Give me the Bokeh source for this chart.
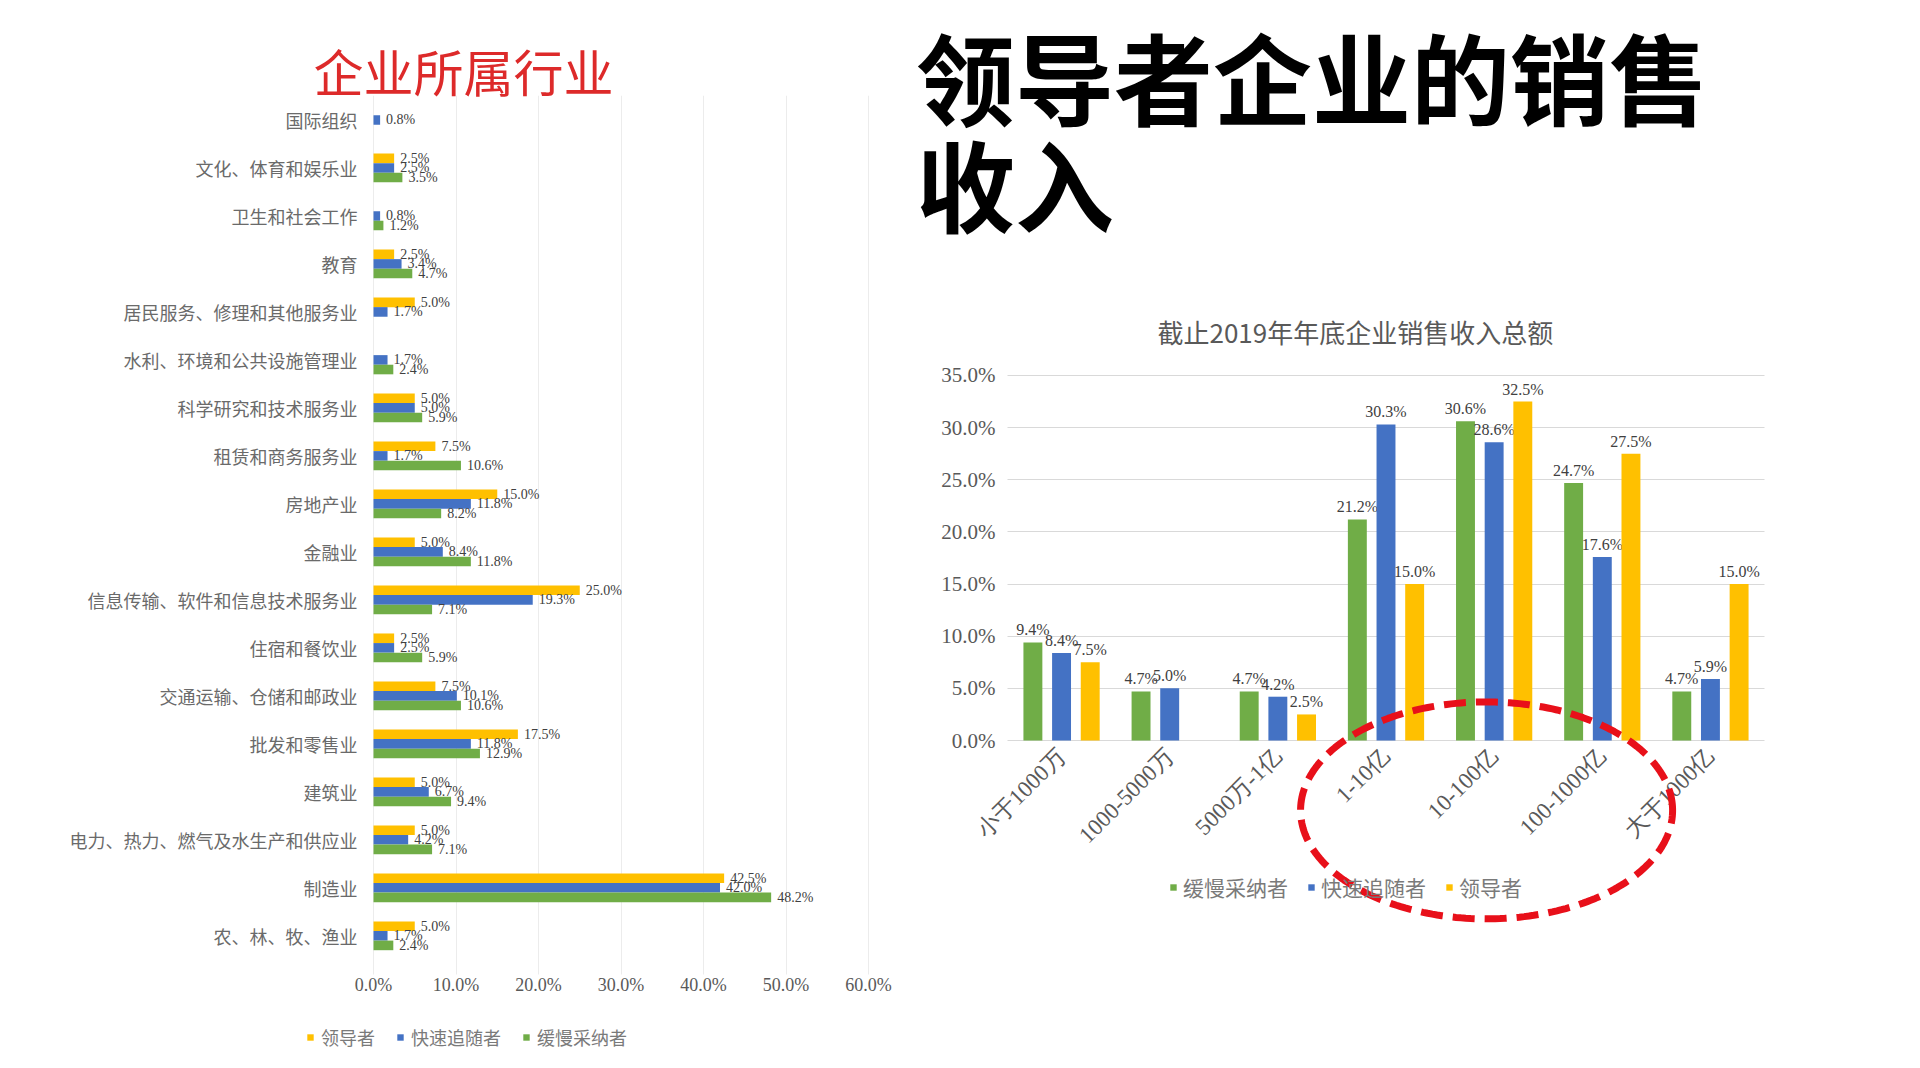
import numpy as np
from bokeh.plotting import figure
from bokeh.models import (ColumnDataSource, FactorRange, Range1d, PrintfTickFormatter, FixedTicker,
                          SingleIntervalTicker, Legend, LegendItem, PolyAnnotation, Div)
from bokeh.layouts import row, column
from bokeh.transform import dodge
from bokeh.core.properties import value
from bokeh.embed import file_html
from bokeh.resources import INLINE

# ---- left chart: industry of the firms (top to bottom) ----
industries = ["国际组织", "文化、体育和娱乐业", "卫生和社会工作", "教育",
              "居民服务、修理和其他服务业", "水利、环境和公共设施管理业",
              "科学研究和技术服务业", "租赁和商务服务业", "房地产业", "金融业",
              "信息传输、软件和信息技术服务业", "住宿和餐饮业", "交通运输、仓储和邮政业",
              "批发和零售业", "建筑业", "电力、热力、燃气及水生产和供应业", "制造业",
              "农、林、牧、渔业"]
leader_ind = [0, 2.5, 0, 2.5, 5.0, 0, 5.0, 7.5, 15.0, 5.0, 25.0, 2.5, 7.5, 17.5, 5.0, 5.0, 42.5, 5.0]
fast_ind = [0.8, 2.5, 0.8, 3.4, 1.7, 1.7, 5.0, 1.7, 11.8, 8.4, 19.3, 2.5, 10.1, 11.8, 6.7, 4.2, 42.0, 1.7]
slow_ind = [0, 3.5, 1.2, 4.7, 0, 2.4, 5.9, 10.6, 8.2, 11.8, 7.1, 5.9, 10.6, 12.9, 9.4, 7.1, 48.2, 2.4]

# ---- right chart: sales revenue at end of 2019 ----
revenue_bands = ["小于1000万", "1000-5000万", "5000万-1亿", "1-10亿", "10-100亿", "100-1000亿", "大于1000亿"]
slow_rev = [9.4, 4.7, 4.7, 21.2, 30.6, 24.7, 4.7]
fast_rev = [8.4, 5.0, 4.2, 30.3, 28.6, 17.6, 5.9]
leader_rev = [7.5, 0, 2.5, 15.0, 32.5, 27.5, 15.0]

GREEN, BLUE, YELLOW = "#70ad47", "#4472c4", "#ffc000"
GREY = "#595959"


def pct(vals):
    return ["%.1f%%" % v if v > 0 else "" for v in vals]


# ------------------------------------------------------------------ left
# rows are numbered from the bottom so the first industry sits on top
ypos = list(range(len(industries) - 1, -1, -1))
src_l = ColumnDataSource(dict(ypos=ypos, leader=leader_ind, fast=fast_ind, slow=slow_ind,
                              leader_t=pct(leader_ind), fast_t=pct(fast_ind), slow_t=pct(slow_ind)))

# the frame covers the whole figure, so the legend below the axis is not clipped
p1 = figure(width=897, height=1052, x_range=Range1d(-42.79, 63.03), y_range=Range1d(-2.39, 17.51),
            output_backend="svg", toolbar_location=None,
            min_border_left=20, min_border_right=4, min_border_top=95, min_border_bottom=2)
p1.outline_line_color = None
p1.title.text = "企业所属行业"
p1.title.align = "left"
p1.title.offset = 293
p1.title.standoff = -20
p1.title.text_font = "Noto Sans CJK SC"
p1.title.text_font_size = "50px"
p1.title.text_font_style = "normal"
p1.title.text_color = "#dd2a2a"

items_l = []
for name, col, color, off in [("领导者", "leader", YELLOW, 0.2),
                              ("快速追随者", "fast", BLUE, 0.0),
                              ("缓慢采纳者", "slow", GREEN, -0.2)]:
    r = p1.hbar(y=dodge("ypos", off), left=0, right=col, height=0.2,
                fill_color=color, line_color=None, source=src_l)
    p1.text(x=col, y=dodge("ypos", off), text=col + "_t", x_offset=6,
            text_baseline="middle", text_font_size="14px", text_color="#404040",
            text_font=value("Liberation Serif"), source=src_l)
    items_l.append(LegendItem(label=name, renderers=[r]))

p1.xaxis.fixed_location = -0.5
p1.xaxis.bounds = (0, 60)
p1.xaxis.ticker = SingleIntervalTicker(interval=10, num_minor_ticks=0)
p1.xaxis.formatter = PrintfTickFormatter(format="%.1f%%")
p1.xaxis.axis_line_color = None
p1.xaxis.major_tick_line_color = None
p1.xaxis.major_tick_out = 0
p1.xaxis.major_label_standoff = 15
p1.xaxis.major_label_text_font = "Liberation Serif"
p1.xaxis.major_label_text_font_size = "18px"
p1.xaxis.major_label_text_color = GREY
p1.yaxis.fixed_location = 0
p1.yaxis.ticker = FixedTicker(ticks=ypos)
p1.yaxis.major_label_overrides = {y: name for y, name in zip(ypos, industries)}
p1.yaxis.axis_line_color = None
p1.yaxis.major_tick_line_color = None
p1.yaxis.major_tick_out = 0
p1.yaxis.major_label_standoff = 16
p1.yaxis.major_label_text_font = "Noto Sans CJK SC"
p1.yaxis.major_label_text_font_size = "18px"
p1.yaxis.major_label_text_color = "#6a6a6a"
p1.xgrid.grid_line_color = "#ececec"
p1.xgrid.bounds = (0, 60)
p1.xgrid.cross_bounds = (-0.8, 17.51)
p1.ygrid.grid_line_color = None

leg1 = Legend(items=items_l, location=(286, 0), orientation="horizontal",
              glyph_width=8, glyph_height=8, label_standoff=7, spacing=21, padding=0, margin=0,
              label_height=20, label_text_font="Noto Sans CJK SC", label_text_font_size="18px",
              label_text_color="#7a7a7a", border_line_alpha=0, background_fill_alpha=0)
p1.add_layout(leg1)

# ------------------------------------------------------------------ right
big_title = Div(text="领导者企业的销售<br>收入", width=988, height=228, margin=(22, 0, 0, 19),
                styles={"font-family": "Noto Sans CJK SC", "font-size": "99px", "font-weight": "bold",
                        "line-height": "107px", "color": "#000000", "white-space": "nowrap"})

src_r = ColumnDataSource(dict(band=revenue_bands, slow=slow_rev, fast=fast_rev, leader=leader_rev,
                              slow_t=pct(slow_rev), fast_t=pct(fast_rev), leader_t=pct(leader_rev)))

# the frame reaches down to the legend so that the highlight ring is not cut
p2 = figure(width=1007, height=802,
            x_range=FactorRange(factors=revenue_bands, range_padding=0.832, range_padding_units="absolute"),
            y_range=Range1d(-29.72, 36.53),
            output_backend="svg", toolbar_location=None,
            min_border_left=20, min_border_right=50, min_border_top=109, min_border_bottom=2)
p2.outline_line_color = None
p2.title.text = "截止2019年年底企业销售收入总额"
p2.title.align = "left"
p2.title.offset = 240
p2.title.standoff = 20
p2.title.text_font = "Noto Sans CJK SC"
p2.title.text_font_size = "26px"
p2.title.text_font_style = "normal"
p2.title.text_color = GREY

items_r = []
for name, col, color, off in [("缓慢采纳者", "slow", GREEN, -0.265),
                              ("快速追随者", "fast", BLUE, 0.0),
                              ("领导者", "leader", YELLOW, 0.265)]:
    r = p2.vbar(x=dodge("band", off, range=p2.x_range), bottom=0, top=col, width=0.175,
                fill_color=color, line_color=None, source=src_r)
    p2.text(x=dodge("band", off, range=p2.x_range), y=col, text=col + "_t", y_offset=-4,
            text_align="center", text_baseline="bottom", text_font_size="16px",
            text_color="#404040", text_font=value("Liberation Serif"), source=src_r)
    items_r.append(LegendItem(label=name, renderers=[r]))

p2.yaxis.fixed_location = 0
p2.yaxis.ticker = SingleIntervalTicker(interval=5, num_minor_ticks=0)
p2.yaxis.bounds = (0, 35)
p2.yaxis.formatter = PrintfTickFormatter(format="%.1f%%")
p2.yaxis.axis_line_color = None
p2.yaxis.major_tick_line_color = None
p2.yaxis.major_tick_out = 0
p2.yaxis.major_label_standoff = 12
p2.yaxis.major_label_text_font = "Liberation Serif"
p2.yaxis.major_label_text_font_size = "21px"
p2.yaxis.major_label_text_color = GREY
p2.xaxis.fixed_location = 0
p2.xaxis.axis_line_color = None
p2.xaxis.major_tick_line_color = None
p2.xaxis.major_tick_out = 0
p2.xaxis.major_label_orientation = np.pi / 4
p2.xaxis.major_label_standoff = 12
p2.xaxis.major_label_text_font = "Liberation Serif"
p2.xaxis.major_label_text_font_size = "23px"
p2.xaxis.major_label_text_color = GREY
p2.ygrid.grid_line_color = "#d9d9d9"
p2.ygrid.bounds = (0, 35)
p2.ygrid.cross_bounds = (0, len(revenue_bands))
p2.xgrid.grid_line_color = None

leg2 = Legend(items=items_r, location=(252, 148), orientation="horizontal",
              glyph_width=8, glyph_height=8, label_standoff=6, spacing=19, padding=0, margin=0,
              label_height=22, label_text_font="Noto Sans CJK SC", label_text_font_size="21px",
              label_text_color="#7a7a7a", border_line_alpha=0, background_fill_alpha=0)
p2.add_layout(leg2)

# red dashed ring highlighting the large-revenue bands
t = np.linspace(0, 2 * np.pi, 240)
ell_cx, ell_cy, ell_rx, ell_ry = 4.43, -6.7, 1.72, 10.4
ellipse = PolyAnnotation(xs=list(ell_cx + ell_rx * np.cos(t)), ys=list(ell_cy + ell_ry * np.sin(t)),
                         fill_alpha=0, line_color="#e8101a", line_alpha=1.0, line_width=7,
                         line_dash="22 10")
p2.add_layout(ellipse)

layout = row(p1, column(big_title, p2))

open("out.html", "w").write(file_html(layout, INLINE))
